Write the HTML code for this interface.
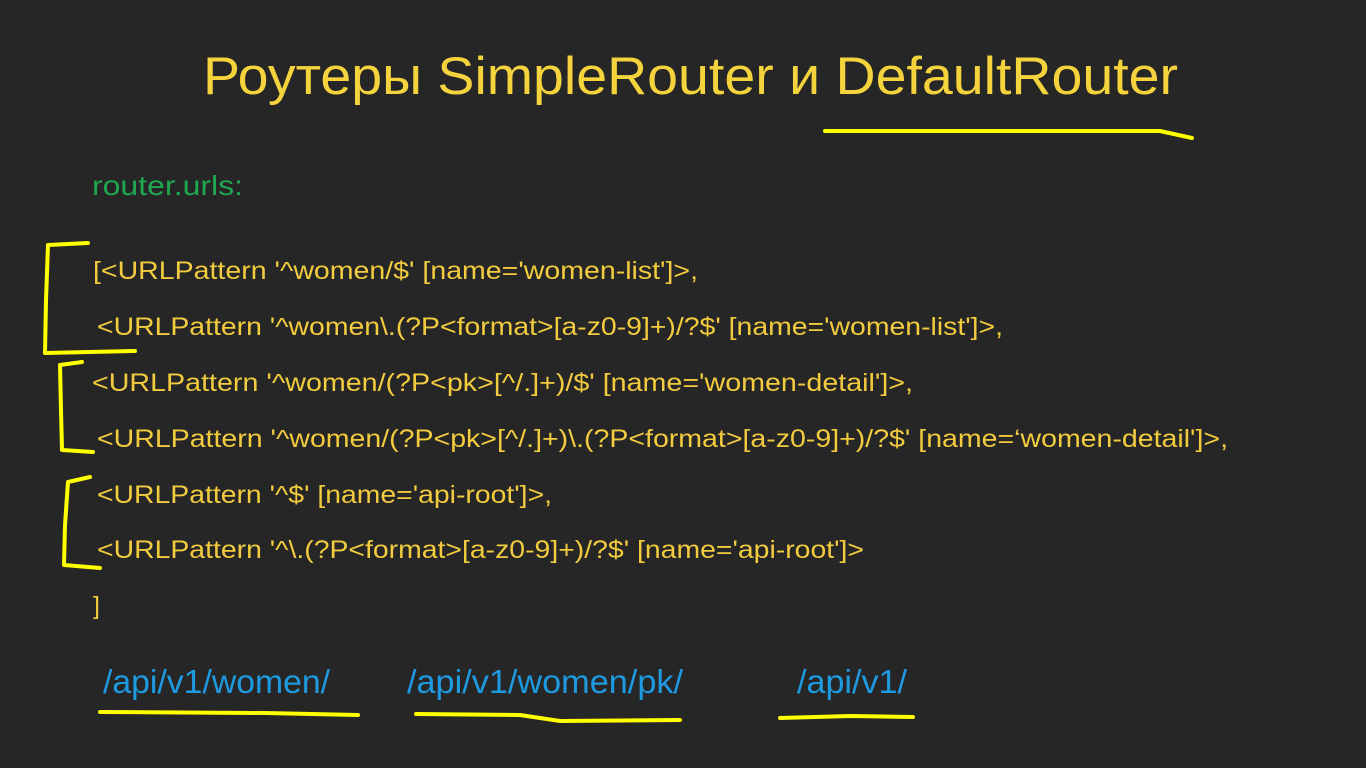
<!DOCTYPE html>
<html><head><meta charset="utf-8"><style>
html,body{margin:0;padding:0;background:#262626;}
svg{display:block}
text{font-family:"Liberation Sans",sans-serif;}
</style></head><body>
<svg width="1366" height="768" viewBox="0 0 1366 768" xmlns="http://www.w3.org/2000/svg">
<rect width="1366" height="768" fill="#262626"/>
<text x="203" y="94" font-size="53" fill="#f5d33c" textLength="975" lengthAdjust="spacingAndGlyphs">Роутеры SimpleRouter и DefaultRouter</text>
<text x="92" y="195" font-size="28" fill="#1fa84e" textLength="151" lengthAdjust="spacingAndGlyphs">router.urls:</text>
<g font-size="25" fill="#f2cb3e">
<text x="93" y="279" textLength="605" lengthAdjust="spacingAndGlyphs">[&lt;URLPattern '^women/$' [name='women-list']&gt;,</text>
<text x="97" y="335" textLength="906" lengthAdjust="spacingAndGlyphs">&lt;URLPattern '^women\.(?P&lt;format&gt;[a-z0-9]+)/?$' [name='women-list']&gt;,</text>
<text x="92" y="391" textLength="821" lengthAdjust="spacingAndGlyphs">&lt;URLPattern '^women/(?P&lt;pk&gt;[^/.]+)/$' [name='women-detail']&gt;,</text>
<text x="97" y="447" textLength="1131" lengthAdjust="spacingAndGlyphs">&lt;URLPattern '^women/(?P&lt;pk&gt;[^/.]+)\.(?P&lt;format&gt;[a-z0-9]+)/?$' [name=‘women-detail']&gt;,</text>
<text x="97" y="503" textLength="455" lengthAdjust="spacingAndGlyphs">&lt;URLPattern '^$' [name='api-root']&gt;,</text>
<text x="97" y="558" textLength="767" lengthAdjust="spacingAndGlyphs">&lt;URLPattern '^\.(?P&lt;format&gt;[a-z0-9]+)/?$' [name='api-root']&gt;</text>
<text x="93" y="614">]</text>
</g>
<g font-size="33" fill="#1e9ae0">
<text x="103" y="693" textLength="227" lengthAdjust="spacingAndGlyphs">/api/v1/women/</text>
<text x="407" y="693" textLength="276" lengthAdjust="spacingAndGlyphs">/api/v1/women/pk/</text>
<text x="797" y="693" textLength="110" lengthAdjust="spacingAndGlyphs">/api/v1/</text>
</g>
<g fill="none" stroke="#ffff00" stroke-width="4" stroke-linecap="round" stroke-linejoin="round">
<path d="M825,131 L1160,131 L1192,138"/>
<path d="M88,243 L48,245 L46,300 L45,353 L135,351"/>
<path d="M82,362 L60,365 L61,410 L62,450 L93,452"/>
<path d="M90,477 L68,482 L65,525 L64,565 L100,568"/>
<path d="M100,712 L265,713 L358,715"/>
<path d="M416,714 L520,715 L560,721 L680,720"/>
<path d="M780,718 L850,716 L913,717"/>
</g>
</svg>
</body></html>
